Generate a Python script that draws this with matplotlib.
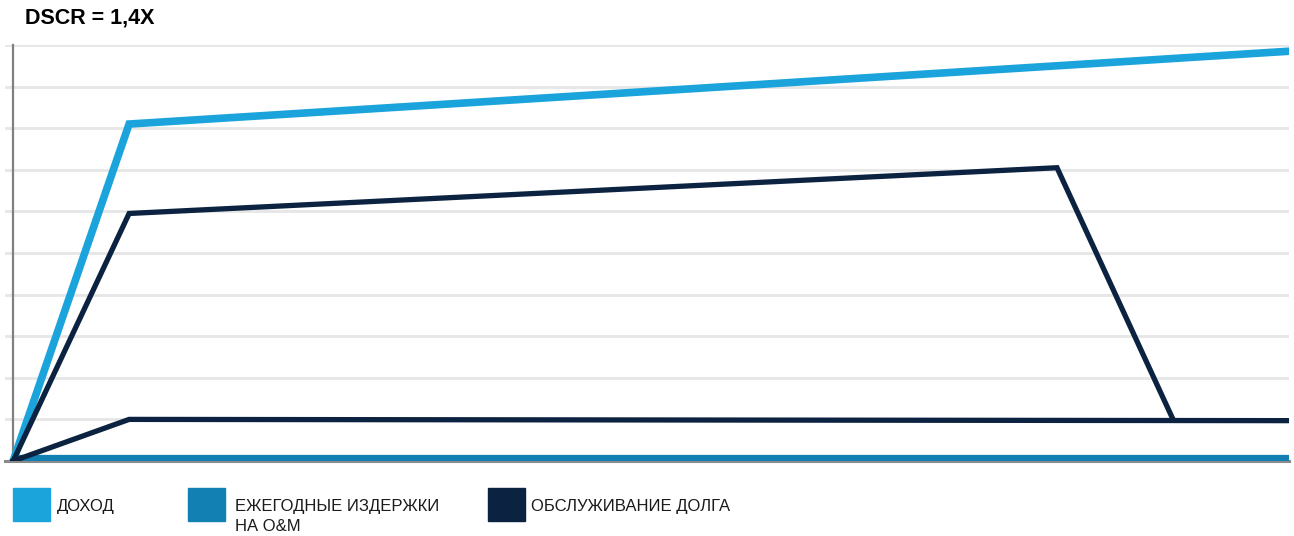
import matplotlib.pyplot as plt
from matplotlib.patches import Rectangle

# --- data (years / relative units) ---
rev_x = [0, 1, 11]
rev_y = [0, 8.1, 9.85]
debt_x = [0, 1, 9, 10]
debt_y = [0, 5.95, 7.05, 1.0]
base_x = [0, 1, 11]
base_y = [0, 1.0, 0.97]
om_x = [0, 11]
om_y = [0.07, 0.07]

legend_labels = ["ДОХОД", "ЕЖЕГОДНЫЕ ИЗДЕРЖКИ\nНА O&M", "ОБСЛУЖИВАНИЕ ДОЛГА"]
c_rev = "#1ba3dc"
c_om = "#1380b3"
c_navy = "#0b2340"

plt.rcParams['font.family'] = ['Liberation Sans', 'DejaVu Sans']

fig = plt.figure(figsize=(12.94, 5.36), dpi=100)
ax = fig.add_axes([5 / 1294, 75 / 536, 1284 / 1294, 416 / 536])
ax.set_xlim(-0.07, 11)
ax.set_ylim(0, 10)

for g in range(1, 11):
    ax.axhline(g, color="#e6e6e6", lw=2, zorder=0)

ax.plot(om_x, om_y, color=c_om, lw=4.5, solid_capstyle="butt", zorder=3)
ax.plot(rev_x, rev_y, color=c_rev, lw=5.5, solid_joinstyle="miter", zorder=4)
ax.plot(debt_x, debt_y, color=c_navy, lw=3.8, solid_joinstyle="miter", zorder=5)
ax.plot(base_x, base_y, color=c_navy, lw=3.8, solid_joinstyle="miter", zorder=5)

for s in ["top", "right"]:
    ax.spines[s].set_visible(False)
ax.spines["left"].set_position(("data", 0))
ax.spines["left"].set_color("#808080")
ax.spines["left"].set_linewidth(1.6)
ax.spines["bottom"].set_color("#8a8a8a")
ax.spines["bottom"].set_linewidth(2.2)
ax.set_xticks([])
ax.set_yticks([])

fig.text(25 / 1294, 1 - 18 / 536, "DSCR = 1,4X", fontsize=15.5, fontweight="bold",
         va="center", ha="left")

# legend
sq_x = [13, 188, 488]
tx_x = [57, 235, 531]
colors = [c_rev, c_om, c_navy]
for sx, tx, c, lab in zip(sq_x, tx_x, colors, legend_labels):
    fig.patches.append(Rectangle((sx / 1294, 1 - 521 / 536), 37 / 1294, 33 / 536,
                                 transform=fig.transFigure, color=c))
    fig.text(tx / 1294, 1 - 499 / 536, lab, fontsize=12, va="top", ha="left",
             color="#1a1a1a", linespacing=1.45)

fig.savefig("out.png", dpi=100)
